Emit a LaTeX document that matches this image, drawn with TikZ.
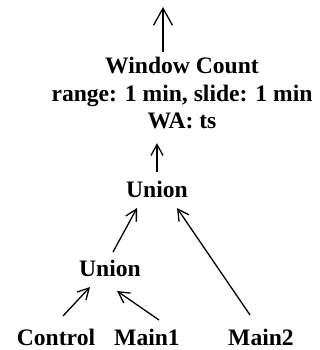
\documentclass[tikz,border=0pt]{standalone}
\usepackage{fontspec}
\setmainfont{Liberation Serif}
\usetikzlibrary{arrows.meta,calc}
\begin{document}
\begin{tikzpicture}[x=1pt,y=-1pt,
  lbl/.style={font=\fontsize{23.6}{27.5}\selectfont\bfseries, inner sep=0pt, anchor=base},
  arr/.style={line width=1.3pt, -{Straight Barb[length=11pt,width=12pt]}},
  bigarr/.style={line width=1.3pt, -{Straight Barb[length=17pt,width=19pt]}}]
\useasboundingbox (0,0) rectangle (320,350);
\node[lbl] (ctrl) at (56,345) {Control};
\node[lbl] (m1) at (147,345) {Main1};
\node[lbl] (m2) at (261,345) {Main2};
\node[lbl] (u1) at (110,276) {Union};
\node[lbl] (u2) at (157,197) {Union};
\node[lbl, align=center, anchor=north] (wc) at (182,57) {Window Count\\range: 1 min, slide: 1 min\\WA: ts};
\coordinate (out) at ($(wc.north)+(-19,-50)$);
\draw[arr] ($(ctrl.base)+(7,-29)$) -- ($(u1.base)+(-20,11)$);
\draw[arr] ($(m1.base)+(12,-25)$) -- ($(u1.base)+(7,15)$);
\draw[arr] ($(u1.base)+(3,-24)$) -- ($(u2.base)+(-20,11)$);
\draw[arr] ($(m2.base)+(-11,-30)$) -- ($(u2.base)+(20,11)$);
\draw[arr] ($(u2.base)+(0,-25)$) -- ($(wc.south)+(-25,14)$);
\draw[bigarr] ($(wc.north)+(-19,-5)$) -- (out);
\end{tikzpicture}
\end{document}
